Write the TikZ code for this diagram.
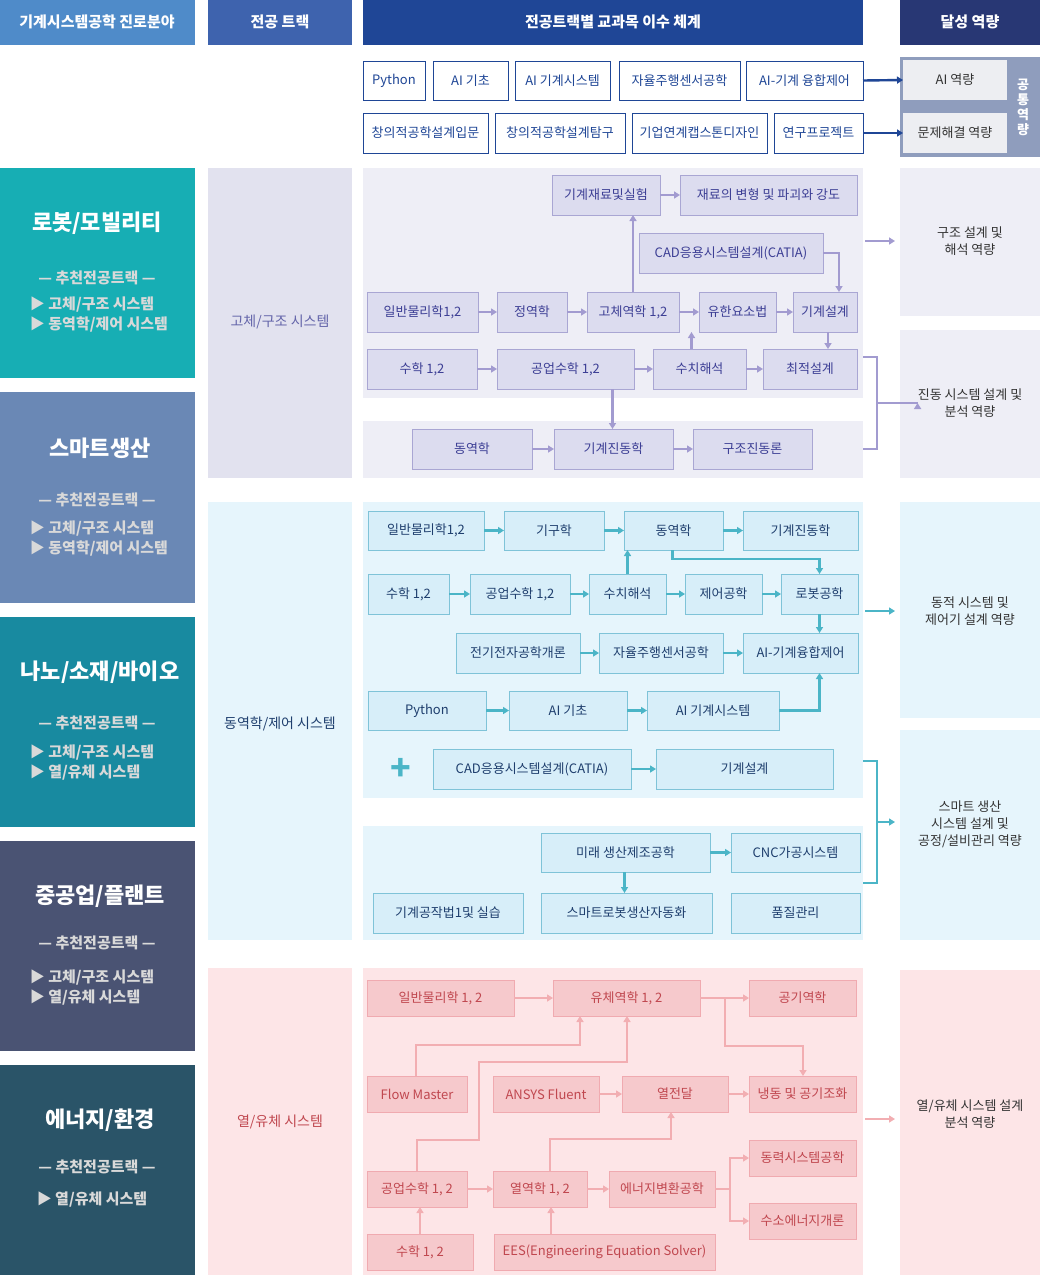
\documentclass[tikz,border=0pt]{standalone}
\usepackage{fontspec}
\setmainfont{Noto Sans CJK KR}
\usetikzlibrary{arrows.meta}
\definecolor{sfill}{HTML}{DCDCEF}\definecolor{sline}{HTML}{A9A6D3}\definecolor{stext}{HTML}{3D3F95}\definecolor{sarr}{HTML}{A29BD0}
\definecolor{spanel}{HTML}{EEEEF6}\definecolor{strack}{HTML}{E2E2EF}
\definecolor{dfill}{HTML}{D7EEF9}\definecolor{dline}{HTML}{7FC3D8}\definecolor{dtext}{HTML}{1F3F6E}\definecolor{darr}{HTML}{4BB5C7}
\definecolor{dpanel}{HTML}{E6F5FC}
\definecolor{tfill}{HTML}{F6C9CC}\definecolor{tline}{HTML}{F0AAB0}\definecolor{ttext}{HTML}{C0474F}\definecolor{tarr}{HTML}{F2AEB2}
\definecolor{tpanel}{HTML}{FDE5E7}
\definecolor{hA}{HTML}{4F8BC9}\definecolor{hB}{HTML}{3E63AE}\definecolor{hC}{HTML}{1F4696}\definecolor{hD}{HTML}{283774}
\definecolor{cA}{HTML}{17AEB4}\definecolor{cB}{HTML}{6A88B5}\definecolor{cC}{HTML}{188AA0}\definecolor{cD}{HTML}{4A5373}\definecolor{cE}{HTML}{2A5468}
\definecolor{comm}{HTML}{8F9DBD}\definecolor{commin}{HTML}{EDEEF2}
\newcommand\bx[6]{\node[#1,minimum width={(#4-#2)*1pt},minimum height={(#5-#3)*1pt}] (#6) at ({(#2+#4)/2},{(#3+#5)/2})}
\newcommand\rc[5]{\fill[#1] (#2,#3) rectangle (#4,#5);}
\tikzset{
 base/.style={draw,inner sep=0pt,outer sep=0pt,font=\fontsize{13}{15}\selectfont,line width=0.9pt},
 sb/.style={base,fill=sfill,draw=sline,text=stext},
 db/.style={base,fill=dfill,draw=dline,text=dtext},
 tb/.style={base,fill=tfill,draw=tline,text=ttext},
 tp/.style={base,fill=white,draw=hC,text=hC},
 sa/.style={draw=sarr,line width=2.2pt,-{Triangle[length=6pt,width=7pt]}},
 da/.style={draw=darr,line width=2.2pt,-{Triangle[length=6pt,width=7pt]}},
 ta/.style={draw=tarr,line width=2.2pt,-{Triangle[length=6pt,width=7pt]}},
 ba/.style={draw=hC,line width=2.4pt,-{Triangle[length=6pt,width=7pt]}},
 hd/.style={inner sep=0pt,text=white,font=\fontsize{15}{17}\selectfont\bfseries},
 rt/.style={inner sep=0pt,align=center,text=black!80,font=\fontsize{13}{17}\selectfont},
 ct/.style={inner sep=0pt,text=white,font=\fontsize{22}{26}\selectfont\bfseries},
 cs/.style={inner sep=0pt,text=white!85!black,font=\fontsize{15}{20}\selectfont\bfseries,align=left},
}
\begin{document}
\begin{tikzpicture}[x=1pt,y=-1pt]
\useasboundingbox (0,0) rectangle (1040,1278);
\fill[white] (0,0) rectangle (1040,1278);
% headers
\rc{hA}{0}{0}{195}{45}\rc{hB}{208}{0}{352}{45}\rc{hC}{363}{0}{863}{45}\rc{hD}{900}{0}{1040}{45}
\node[hd] (h1) at (97,22) {기계시스템공학 진로분야};
\node[hd] (h2) at (280,22) {전공 트랙};
\node[hd] (h3) at (613,22) {전공트랙별 교과목 이수 체계};
\node[hd] (h4) at (970,22) {달성 역량};
% common
\bx{tp}{363}{61}{425}{100}{p1}{Python};
\bx{tp}{433}{61}{508}{100}{p2}{AI 기초};
\bx{tp}{515}{61}{610}{100}{p3}{AI 기계시스템};
\bx{tp}{619}{61}{740}{100}{p4}{자율주행센서공학};
\bx{tp}{746}{61}{863}{100}{p5}{AI-기계 융합제어};
\bx{tp}{363}{113}{488}{153}{q1}{창의적공학설계입문};
\bx{tp}{495}{113}{625}{153}{q2}{창의적공학설계탐구};
\bx{tp}{632}{113}{767}{153}{q3}{기업연계캡스톤디자인};
\bx{tp}{774}{113}{863}{153}{q4}{연구프로젝트};
\rc{comm}{900}{57}{1040}{157}
\bx{base,draw=none,fill=commin,text=black!80}{903}{60}{1007}{100}{ai}{AI 역량};
\bx{base,draw=none,fill=commin,text=black!80}{903}{113}{1007}{153}{ps}{문제해결 역량};
\node[inner sep=0pt,text=white,align=center,font=\fontsize{13}{15}\selectfont\bfseries] (cm) at (1023,107) {공\\통\\역\\량};
\draw[ba] (p5.east) -- (ai.west);
\draw[ba] (q4.east) -- (ps.west);
% categories
\rc{cA}{0}{168}{195}{378}\rc{cB}{0}{392}{195}{603}\rc{cC}{0}{617}{195}{827}\rc{cD}{0}{841}{195}{1051}\rc{cE}{0}{1065}{195}{1275}
\node[ct] (k1) at (97,223) {로봇/모빌리티};
\node[cs] (k1a) at (97,278) {— 추천전공트랙 —};
\node[cs] (k1b) at (99,315) {▶ 고체/구조 시스템\\▶ 동역학/제어 시스템};
\node[ct] (k2) at (100,448) {스마트생산};
\node[cs] (k2a) at (97,500) {— 추천전공트랙 —};
\node[cs] (k2b) at (99,539) {▶ 고체/구조 시스템\\▶ 동역학/제어 시스템};
\node[ct] (k3) at (100,672) {나노/소재/바이오};
\node[cs] (k3a) at (97,723) {— 추천전공트랙 —};
\node[cs] (k3b) at (92,763) {▶ 고체/구조 시스템\\▶ 열/유체 시스템};
\node[ct] (k4) at (100,896) {중공업/플랜트};
\node[cs] (k4a) at (97,943) {— 추천전공트랙 —};
\node[cs] (k4b) at (92,988) {▶ 고체/구조 시스템\\▶ 열/유체 시스템};
\node[ct] (k5) at (100,1120) {에너지/환경};
\node[cs] (k5a) at (97,1167) {— 추천전공트랙 —};
\node[cs] (k5b) at (92,1200) {▶ 열/유체 시스템};
% tracks
\rc{strack}{208}{168}{352}{478}\rc{dpanel}{208}{502}{352}{940}\rc{tpanel}{208}{968}{352}{1275}
\node[inner sep=0pt,text=stext!80,font=\fontsize{14}{16}\selectfont] (t1) at (280,322) {고체/구조 시스템};
\node[inner sep=0pt,text=dtext,font=\fontsize{14}{16}\selectfont] (t2) at (280,724) {동역학/제어 시스템};
\node[inner sep=0pt,text=ttext,font=\fontsize{14}{16}\selectfont] (t3) at (280,1122) {열/유체 시스템};
% panels
\rc{spanel}{363}{168}{863}{398}\rc{spanel}{363}{421}{863}{478}
\rc{dpanel}{363}{502}{863}{798}\rc{dpanel}{363}{826}{863}{940}
\rc{tpanel}{363}{968}{863}{1275}
\rc{spanel}{900}{168}{1040}{316}\rc{spanel}{900}{330}{1040}{478}
\rc{dpanel}{900}{502}{1040}{718}\rc{dpanel}{900}{730}{1040}{940}
\rc{tpanel}{900}{970}{1040}{1275}
\node[rt] (r1) at (970,241) {구조 설계 및\\해석 역량};
\node[rt] (r2) at (970,403) {진동 시스템 설계 및\\분석 역량};
\node[rt] (r3) at (970,611) {동적 시스템 및\\제어기 설계 역량};
\node[rt] (r4) at (970,824) {스마트 생산\\시스템 설계 및\\공정/설비관리 역량};
\node[rt] (r5) at (970,1114) {열/유체 시스템 설계\\분석 역량};
% solid
\bx{sb}{552}{175}{660}{215}{mat}{기계재료및실험};
\bx{sb}{680}{175}{857}{215}{def}{재료의 변형 및 파괴와 강도};
\bx{sb}{639}{233}{823}{273}{cad}{CAD응용시스템설계(CATIA)};
\bx{sb}{367}{292}{478}{332}{gp}{일반물리학1,2};
\bx{sb}{497}{292}{567}{332}{st}{정역학};
\bx{sb}{587}{292}{679}{332}{sm}{고체역학 1,2};
\bx{sb}{699}{292}{776}{332}{fem}{유한요소법};
\bx{sb}{793}{292}{857}{332}{md}{기계설계};
\bx{sb}{367}{349}{477}{389}{ma}{수학 1,2};
\bx{sb}{497}{349}{634}{389}{em}{공업수학 1,2};
\bx{sb}{653}{349}{746}{389}{na}{수치해석};
\bx{sb}{763}{349}{857}{389}{opt}{최적설계};
\bx{sb}{412}{429}{532}{469}{dy}{동역학};
\bx{sb}{554}{429}{673}{469}{vib}{기계진동학};
\bx{sb}{693}{429}{812}{469}{svib}{구조진동론};
\draw[sa] (mat.east) -- (def.west);
\draw[sa] (gp.east) -- (st.west);
\draw[sa] (st.east) -- (sm.west);
\draw[sa] (sm.east) -- (fem.west);
\draw[sa] (fem.east) -- (md.west);
\draw[sa] (ma.east) -- (em.west);
\draw[sa] (em.east) -- (na.west);
\draw[sa] (na.east) -- (opt.west);
\draw[sa] (dy.east) -- (vib.west);
\draw[sa] (vib.east) -- (svib.west);
\draw[sa] (sm.north) -- (sm.north |- mat.south);
\draw[sa] (cad.east) -| ([xshift=14pt]md.north);
\draw[sa] ([xshift=3pt]md.south) -- ([xshift=3pt]md.south |- opt.north);
\draw[sa] ([xshift=-8pt]na.north) -- ([xshift=-8pt]na.north |- fem.south);
\draw[sa] ([xshift=47pt]em.south) -- ([xshift=47pt]em.south |- vib.north);
\coordinate (b1a) at (863,357); \coordinate (b1b) at (863,449); \coordinate (b1m) at (877,403);
\draw[draw=sarr,line width=2pt] (b1a) -- (877,357) -- (877,449) -- (b1b);
\draw[sa] (b1m) -- (r2.west |- b1m) ++(0,0);
\coordinate (s1) at (865,241);
\draw[sa] (s1) -- (895,241);
% dynamics
\bx{db}{368}{511}{484}{550}{dgp}{일반물리학1,2};
\bx{db}{504}{511}{604}{550}{kin}{기구학};
\bx{db}{624}{511}{723}{550}{ddy}{동역학};
\bx{db}{743}{511}{858}{550}{dvib}{기계진동학};
\bx{db}{368}{574}{449}{614}{dma}{수학 1,2};
\bx{db}{470}{574}{570}{614}{dem}{공업수학 1,2};
\bx{db}{589}{574}{666}{614}{dna}{수치해석};
\bx{db}{685}{574}{762}{614}{ctl}{제어공학};
\bx{db}{781}{574}{858}{614}{rob}{로봇공학};
\bx{db}{456}{633}{580}{673}{ee}{전기전자공학개론};
\bx{db}{599}{633}{723}{673}{auto}{자율주행센서공학};
\bx{db}{743}{633}{858}{673}{aic}{AI-기계융합제어};
\bx{db}{368}{691}{486}{730}{py}{Python};
\bx{db}{509}{691}{627}{730}{aib}{AI 기초};
\bx{db}{647}{691}{779}{730}{ais}{AI 기계시스템};
\node[text=darr,inner sep=0pt,font=\fontsize{34}{34}\selectfont\bfseries] (plus) at (401,769) {+};
\bx{db}{433}{749}{631}{789}{dcad}{CAD응용시스템설계(CATIA)};
\bx{db}{656}{749}{833}{789}{dmd}{기계설계};
\bx{db}{541}{833}{710}{872}{fut}{미래 생산제조공학};
\bx{db}{731}{833}{860}{872}{cnc}{CNC가공시스템};
\bx{db}{373}{893}{523}{933}{mw}{기계공작법1및 실습};
\bx{db}{541}{893}{712}{933}{srob}{스마트로봇생산자동화};
\bx{db}{731}{893}{860}{933}{qc}{품질관리};
\draw[da] (dgp.east) -- (kin.west);
\draw[da] (kin.east) -- (ddy.west);
\draw[da] (ddy.east) -- (dvib.west);
\draw[da] (dma.east) -- (dem.west);
\draw[da] (dem.east) -- (dna.west);
\draw[da] (dna.east) -- (ctl.west);
\draw[da] (ctl.east) -- (rob.west);
\draw[da] (ee.east) -- (auto.west);
\draw[da] (auto.east) -- (aic.west);
\draw[da] (py.east) -- (aib.west);
\draw[da] (aib.east) -- (ais.west);
\draw[da] (dcad.east) -- (dmd.west);
\draw[da] (fut.east) -- (cnc.west);
\draw[da] (dna.north) -- (dna.north |- ddy.south);
\draw[da] ([xshift=-1pt]ddy.south) -- ++(0,9) -| (rob.north);
\draw[da] ([xshift=0pt]rob.south) -- ([xshift=0pt]rob.south |- aic.north);
\draw[da] (ais.east) -| ([xshift=19pt]aic.south);
\draw[da] ([xshift=-1pt]fut.south) -- ([xshift=-1pt]fut.south |- srob.north);
\coordinate (d1) at (865,611);
\draw[da] (d1) -- (895,611);
\coordinate (b2a) at (863,761); \coordinate (b2b) at (863,883); \coordinate (b2m) at (877,822);
\draw[draw=darr,line width=2pt] (b2a) -- (877,761) -- (877,883) -- (b2b);
\draw[da] (b2m) -- (895,822);
% thermal
\bx{tb}{367}{980}{514}{1016}{tgp}{일반물리학 1, 2};
\bx{tb}{553}{980}{700}{1016}{fl}{유체역학 1, 2};
\bx{tb}{749}{980}{856}{1016}{aero}{공기역학};
\bx{tb}{367}{1076}{467}{1112}{fm}{Flow Master};
\bx{tb}{493}{1076}{599}{1112}{ans}{ANSYS Fluent};
\bx{tb}{622}{1076}{728}{1112}{ht}{열전달};
\bx{tb}{749}{1076}{856}{1112}{hvac}{냉동 및 공기조화};
\bx{tb}{749}{1140}{856}{1176}{pow}{동력시스템공학};
\bx{tb}{367}{1171}{467}{1207}{tem}{공업수학 1, 2};
\bx{tb}{493}{1171}{587}{1207}{thd}{열역학 1, 2};
\bx{tb}{609}{1171}{715}{1207}{ec}{에너지변환공학};
\bx{tb}{749}{1203}{856}{1239}{h2}{수소에너지개론};
\bx{tb}{367}{1234}{473}{1270}{tma}{수학 1, 2};
\bx{tb}{494}{1234}{715}{1270}{ees}{EES(Engineering Equation Solver)};
\draw[ta] (tgp.east) -- (fl.west);
\draw[ta] (fl.east) -- (aero.west);
\draw[ta] (ans.east) -- (ht.west);
\draw[ta] (ht.east) -- (hvac.west);
\draw[ta] (tem.east) -- (thd.west);
\draw[ta] (thd.east) -- (ec.west);
\draw[ta] ([xshift=-1pt]fm.north) |- (580,1045) -- (580,1016);
\draw[ta] (417,1171) |- (479,1140) |- (627,1062) -- (627,1016);
\draw[ta] (550,1171) |- (671,1139) -- (ht.south -| 671,0);
\draw[ta] (725,998) |- (803,1046) -- (hvac.north -| 803,0);
\draw[ta] (ec.east) -- (730,1189) |- (pow.west);
\draw[ta] (730,1189) |- (h2.west);
\draw[ta] (tma.north -| 420,0) -- (tem.south -| 420,0);
\draw[ta] (ees.north -| 551,0) -- (thd.south -| 551,0);
\coordinate (t1a) at (865,1119);
\draw[ta] (t1a) -- (895,1119);
\end{tikzpicture}
\end{document}
